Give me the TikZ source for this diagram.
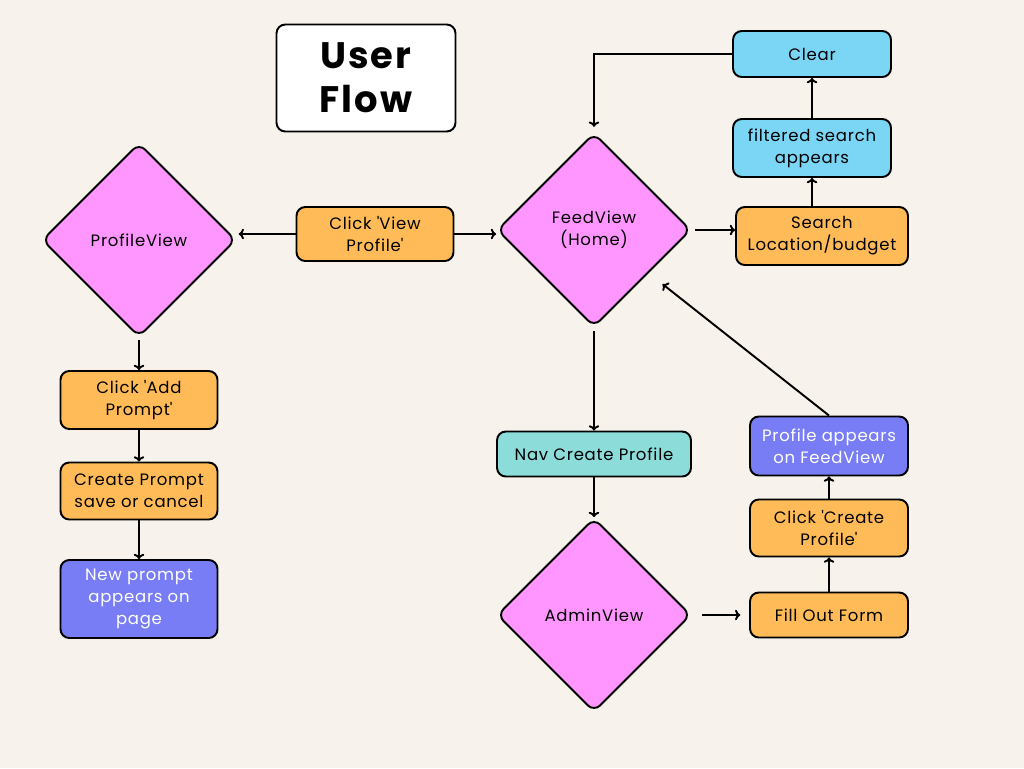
\documentclass[tikz,border=0pt]{standalone}
\usepackage{fontspec}
\setmainfont{Poppins}[LetterSpace=4.5]
\newfontfamily\titlefont{Poppins}[LetterSpace=5]
\usetikzlibrary{shapes.geometric}
\usetikzlibrary{arrows.meta}

\definecolor{bgbeige}{HTML}{F7F3EC}
\definecolor{boxorange}{HTML}{FFBB57}
\definecolor{boxpink}{HTML}{FF96FF}
\definecolor{boxsky}{HTML}{7BD5F5}
\definecolor{boxteal}{HTML}{8CDCDA}
\definecolor{boxviolet}{HTML}{787DF5}

\newcommand{\sq}{\textquotesingle}

\begin{document}
\begin{tikzpicture}[x=0.02cm, y=-0.02cm,
  flowbox/.style={draw=black, line width=1.1pt, rounded corners=5pt, align=center,
    inner sep=0pt, font=\fontsize{9.4}{12.5}\selectfont},
  viewdiamond/.style={diamond, draw=black, line width=1.1pt, rounded corners=5pt, fill=boxpink,
    minimum width=3.88cm, minimum height=3.88cm, inner sep=0pt, align=center,
    font=\fontsize{9.4}{12.5}\selectfont},
  flowarrow/.style={line width=1.1pt, -{To[length=3pt,width=6pt]}}]
\fill[bgbeige] (0,0) rectangle (1024,768);
\useasboundingbox (0,0) rectangle (1024,768);

\node[flowbox, fill=white, minimum width=3.58cm, minimum height=2.14cm,
  font=\titlefont\bfseries\fontsize{21}{25}\selectfont] (title) at (366,78) {User\\Flow};

\node[viewdiamond] (profileview) at (139,240) {ProfileView};
\node[viewdiamond] (feedview) at (594,230) {FeedView\\(Home)};
\node[viewdiamond] (adminview) at (594,615) {AdminView};

\node[flowbox, fill=boxorange, minimum width=3.14cm, minimum height=1.08cm] (viewprofile) at (375,234) {Click \sq View\\Profile\sq};
\node[flowbox, fill=boxorange, minimum width=3.44cm, minimum height=1.16cm] (search) at (822,236) {Search\\Location/budget};
\node[flowbox, fill=boxsky, minimum width=3.16cm, minimum height=1.16cm] (filtered) at (812,148) {filtered search\\appears};
\node[flowbox, fill=boxsky, minimum width=3.16cm, minimum height=0.92cm] (clear) at (812,54) {Clear};
\node[flowbox, fill=boxteal, minimum width=3.88cm, minimum height=0.9cm] (navcreate) at (594,454) {Nav Create Profile};
\node[flowbox, fill=boxorange, minimum width=3.16cm, minimum height=0.9cm] (fillform) at (829,615) {Fill Out Form};
\node[flowbox, fill=boxorange, minimum width=3.16cm, minimum height=1.14cm] (createprofile) at (829,528) {Click \sq Create\\Profile\sq};
\node[flowbox, fill=boxviolet, text=white, minimum width=3.16cm, minimum height=1.18cm] (profileappears) at (829,446) {Profile appears\\on FeedView};
\node[flowbox, fill=boxorange, minimum width=3.14cm, minimum height=1.16cm] (addprompt) at (139,400) {Click \sq Add\\Prompt\sq};
\node[flowbox, fill=boxorange, minimum width=3.14cm, minimum height=1.14cm] (createprompt) at (139,491) {Create Prompt\\save or cancel};
\node[flowbox, fill=boxviolet, text=white, minimum width=3.14cm, minimum height=1.56cm] (newprompt) at (139,599) {New prompt\\appears on\\page};

\draw[flowarrow, shorten >=1pt] (viewprofile) -- (profileview.east |- viewprofile);
\draw[flowarrow] (viewprofile.east) -- (feedview.west |- viewprofile.east);
\draw[flowarrow, shorten <=2pt] (feedview.east) -- (search.west |- feedview.east);
\draw[flowarrow] (search.north -| filtered) -- (filtered.south);
\draw[flowarrow] (filtered.north) -- (clear.south);
\draw[flowarrow, shorten >=3pt] (clear.west) -| (feedview.north);
\draw[flowarrow, shorten <=2pt] (feedview.south) -- (navcreate.north);
\draw[flowarrow] (navcreate.south) -- (adminview.north);
\draw[flowarrow, shorten <=6pt, shorten >=5pt] (adminview.east) -- (fillform.west |- adminview.east);
\draw[flowarrow] (fillform.north) -- (createprofile.south);
\draw[flowarrow] (createprofile.north) -- (profileappears.south);
\draw[flowarrow, shorten >=10pt] (profileappears.north) -- (feedview);
\draw[flowarrow, shorten <=1pt] (profileview.south) -- (addprompt.north);
\draw[flowarrow] (addprompt.south) -- (createprompt.north);
\draw[flowarrow] (createprompt.south) -- (newprompt.north);
\end{tikzpicture}
\end{document}
